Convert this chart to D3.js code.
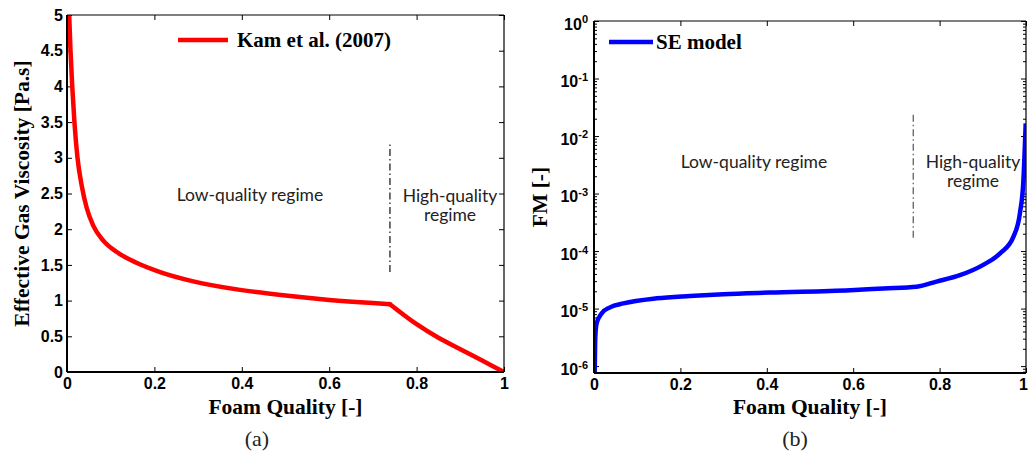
<!DOCTYPE html>
<html>
<head>
<meta charset="utf-8">
<script src="https://cdn.jsdelivr.net/npm/d3@7"></script>
<style>
	body { margin: 0; background: #fff; }
	svg { display: block; }
	.tick-label { font-family: "Liberation Sans", Arial, sans-serif; font-weight: bold; font-size: 16px; fill: #000; }
	.axis-title { font-family: "Liberation Serif", "Times New Roman", serif; font-weight: bold; font-size: 21.5px; fill: #000; }
	.legend-text { font-family: "Liberation Serif", "Times New Roman", serif; font-weight: bold; font-size: 21px; fill: #000; }
	.note { font-family: Lato, "Open Sans", sans-serif; font-size: 17.5px; fill: #222; }
	.caption { font-family: "Liberation Serif", serif; font-size: 22px; fill: #222; }
</style>
</head>
<body>
<script>
	// (a) Kam et al. (2007): effective gas viscosity vs foam quality
	var qualityA = [0.005, 0.008, 0.012, 0.017, 0.024, 0.034, 0.045, 0.060, 0.083, 0.114, 0.159, 0.213, 0.289, 0.396, 0.5, 0.6, 0.7, 0.739, 0.8, 0.85, 0.9, 0.95, 1.0];
	var viscosityA = [5.0, 4.5, 4.0, 3.5, 3.0, 2.6, 2.3, 2.05, 1.84, 1.68, 1.53, 1.40, 1.27, 1.15, 1.07, 1.01, 0.965, 0.95, 0.67, 0.48, 0.32, 0.16, 0.0];

	// (b) SE model: FM vs foam quality
	var qualityB = [0.0005, 0.002, 0.003, 0.006, 0.018, 0.037, 0.068, 0.145, 0.222, 0.299, 0.407, 0.593, 0.670, 0.747, 0.793, 0.847, 0.901, 0.940, 0.971, 0.986, 0.994, 0.9993];
	var fmB = [3e-7, 1.2e-6, 3.2e-6, 5.5e-6, 8.3e-6, 1.05e-5, 1.23e-5, 1.51e-5, 1.66e-5, 1.78e-5, 1.9e-5, 2.09e-5, 2.24e-5, 2.4e-5, 2.95e-5, 3.8e-5, 5.75e-5, 9.1e-5, 1.78e-4, 4.6e-4, 1.7e-3, 1.66e-2];

	var xTicks = [0, 0.2, 0.4, 0.6, 0.8, 1];
	var yTicksA = [0, 0.5, 1, 1.5, 2, 2.5, 3, 3.5, 4, 4.5, 5];
	var yExponentsB = [0, -1, -2, -3, -4, -5, -6];

	var regimeBoundary = 0.739;
	var boundaryA = [1.4, 3.2];
	var boundaryB = [1.7e-4, 2.6e-2];

	var width = 1028, height = 457;
	var svg = d3.select('body').append('svg').attr('width', width).attr('height', height);

	function frame(g, x, y) {
		var x0 = x.range()[0], x1 = x.range()[1], y0 = y.range()[0], y1 = y.range()[1];
		g.append('line').attr('x1', x0).attr('x2', x1).attr('y1', y1).attr('y2', y1).attr('stroke', '#000').attr('stroke-width', 1.2);
		g.append('line').attr('x1', x1).attr('x2', x1).attr('y1', y0).attr('y2', y1).attr('stroke', '#000').attr('stroke-width', 1.2);
		g.append('line').attr('x1', x0).attr('x2', x1).attr('y1', y0).attr('y2', y0).attr('stroke', '#000').attr('stroke-width', 2);
		g.append('line').attr('x1', x0).attr('x2', x0).attr('y1', y0).attr('y2', y1).attr('stroke', '#000').attr('stroke-width', 2);
	}

	function styleAxis(sel) {
		sel.select('.domain').remove();
		sel.selectAll('.tick line').attr('stroke', '#000').attr('stroke-width', 1);
		sel.selectAll('.tick text').attr('class', 'tick-label').attr('fill', null);
	}

	function xAxes(g, x, y, ticks) {
		var bottom = g.append('g').attr('transform', 'translate(0,' + y.range()[0] + ')')
			.call(d3.axisBottom(x).tickValues(ticks).tickSize(-5).tickPadding(6).tickFormat(d3.format('')))
			.call(styleAxis);
		g.append('g').attr('transform', 'translate(0,' + y.range()[1] + ')')
			.call(d3.axisTop(x).tickValues(ticks).tickSize(-5).tickFormat(''))
			.call(styleAxis);
		return bottom;
	}

	function clip(id, x, y) {
		svg.append('clipPath').attr('id', id).append('rect')
			.attr('x', x.range()[0]).attr('y', y.range()[1])
			.attr('width', x.range()[1] - x.range()[0]).attr('height', y.range()[0] - y.range()[1]);
	}

	/*** Panel (a) ***/
	var xA = d3.scaleLinear().domain([0, 1]).range([67, 504]);
	var yA = d3.scaleLinear().domain([0, 5]).range([372, 15]);
	var gA = svg.append('g');
	clip('clipA', xA, yA);

	xAxes(gA, xA, yA, xTicks);
	gA.append('g').attr('transform', 'translate(' + xA.range()[0] + ',0)')
		.call(d3.axisLeft(yA).tickValues(yTicksA).tickSize(-5).tickPadding(4).tickFormat(d3.format('')))
		.call(styleAxis);
	gA.append('g').attr('transform', 'translate(' + xA.range()[1] + ',0)')
		.call(d3.axisRight(yA).tickValues(yTicksA).tickSize(-5).tickFormat(''))
		.call(styleAxis);

	gA.append('line')
		.attr('x1', xA(regimeBoundary)).attr('x2', xA(regimeBoundary))
		.attr('y1', yA(boundaryA[0])).attr('y2', yA(boundaryA[1]))
		.attr('stroke', '#111').attr('stroke-width', 1.2).attr('stroke-dasharray', '7,3,1.5,3');

	// the curve has a kink at the regime boundary: draw each regime as its own smooth piece
	var pointsA = d3.zip(qualityA, viscosityA);
	var lineA = d3.line().x(function(d) { return xA(d[0]); }).y(function(d) { return yA(d[1]); }).curve(d3.curveMonotoneX);
	[pointsA.filter(function(d) { return d[0] <= regimeBoundary; }),
	 pointsA.filter(function(d) { return d[0] >= regimeBoundary; })].forEach(function(part) {
		gA.append('path')
			.datum(part)
			.attr('clip-path', 'url(#clipA)')
			.attr('fill', 'none').attr('stroke', '#ff0000').attr('stroke-width', 4.5)
			.attr('stroke-linejoin', 'round').attr('stroke-linecap', 'round')
			.attr('d', lineA);
	});

	frame(gA, xA, yA);

	// legend
	gA.append('line').attr('x1', 178).attr('x2', 228).attr('y1', 40).attr('y2', 40).attr('stroke', '#ff0000').attr('stroke-width', 4.5);
	gA.append('text').attr('class', 'legend-text').attr('x', 237).attr('y', 47).text('Kam et al. (2007)');

	gA.append('text').attr('class', 'note').attr('x', 250).attr('y', 201).attr('text-anchor', 'middle').text('Low-quality regime');
	gA.append('text').attr('class', 'note').attr('x', 450).attr('y', 202).attr('text-anchor', 'middle').text('High-quality');
	gA.append('text').attr('class', 'note').attr('x', 450).attr('y', 221).attr('text-anchor', 'middle').text('regime');

	gA.append('text').attr('class', 'axis-title').attr('x', (xA.range()[0] + xA.range()[1]) / 2).attr('y', 414)
		.attr('text-anchor', 'middle').text('Foam Quality [-]');
	gA.append('text').attr('class', 'axis-title').attr('text-anchor', 'middle')
		.attr('transform', 'translate(29,' + (yA.range()[0] + yA.range()[1]) / 2 + ') rotate(-90)')
		.text('Effective Gas Viscosity [Pa.s]');
	gA.append('text').attr('class', 'caption').attr('x', 257).attr('y', 446).attr('text-anchor', 'middle').text('(a)');

	/*** Panel (b) ***/
	var xB = d3.scaleLinear().domain([0, 1]).range([594, 1026]);
	var yB = d3.scaleLog().domain([Math.pow(10, -6.12), 1]).range([373, 21]);
	var gB = svg.append('g');
	clip('clipB', xB, yB);

	var bottomB = xAxes(gB, xB, yB, xTicks);
	// keep the last label inside the page
	bottomB.selectAll('.tick text').filter(function(d) { return d === 1; }).attr('dx', -3);

	var majorB = yExponentsB.map(function(e) { return Math.pow(10, e); });
	var minorB = yB.ticks().filter(function(v) {
		var e = Math.log10(v);
		return Math.abs(e - Math.round(e)) > 1e-6;
	});

	var leftMajor = gB.append('g').attr('transform', 'translate(' + xB.range()[0] + ',0)')
		.call(d3.axisLeft(yB).tickValues(majorB).tickSize(-5).tickPadding(14).tickFormat(function() { return ''; }))
		.call(styleAxis);
	leftMajor.selectAll('.tick').each(function(d, i) {
		var t = d3.select(this).select('text').attr('dy', '0.5em').attr('text-anchor', 'end');
		t.append('tspan').text('10');
		t.append('tspan').attr('dy', '-0.55em').style('font-size', '11px').text(String(yExponentsB[i]));
		t.attr('x', -6);
	});
	gB.append('g').attr('transform', 'translate(' + xB.range()[0] + ',0)')
		.call(d3.axisLeft(yB).tickValues(minorB).tickSize(-3).tickFormat(''))
		.call(styleAxis);
	gB.append('g').attr('transform', 'translate(' + xB.range()[1] + ',0)')
		.call(d3.axisRight(yB).tickValues(majorB).tickSize(-5).tickFormat(''))
		.call(styleAxis);
	gB.append('g').attr('transform', 'translate(' + xB.range()[1] + ',0)')
		.call(d3.axisRight(yB).tickValues(minorB).tickSize(-3).tickFormat(''))
		.call(styleAxis);

	gB.append('line')
		.attr('x1', xB(regimeBoundary)).attr('x2', xB(regimeBoundary))
		.attr('y1', yB(boundaryB[0])).attr('y2', yB(boundaryB[1]))
		.attr('stroke', '#555').attr('stroke-width', 1.2).attr('stroke-dasharray', '7,3,1.5,3');

	gB.append('path')
		.datum(d3.zip(qualityB, fmB))
		.attr('clip-path', 'url(#clipB)')
		.attr('fill', 'none').attr('stroke', '#0000ff').attr('stroke-width', 4.5)
		.attr('stroke-linejoin', 'round')
		.attr('d', d3.line().x(function(d) { return xB(d[0]); }).y(function(d) { return yB(d[1]); }).curve(d3.curveMonotoneX));

	frame(gB, xB, yB);

	gB.append('line').attr('x1', 609).attr('x2', 653).attr('y1', 42).attr('y2', 42).attr('stroke', '#0000ff').attr('stroke-width', 4.5);
	gB.append('text').attr('class', 'legend-text').attr('x', 656).attr('y', 49).text('SE model');

	gB.append('text').attr('class', 'note').attr('x', 754).attr('y', 168).attr('text-anchor', 'middle').text('Low-quality regime');
	gB.append('text').attr('class', 'note').attr('x', 973).attr('y', 168).attr('text-anchor', 'middle').text('High-quality');
	gB.append('text').attr('class', 'note').attr('x', 973).attr('y', 187).attr('text-anchor', 'middle').text('regime');

	gB.append('text').attr('class', 'axis-title').attr('x', (xB.range()[0] + xB.range()[1]) / 2).attr('y', 414)
		.attr('text-anchor', 'middle').text('Foam Quality [-]');
	gB.append('text').attr('class', 'axis-title').attr('text-anchor', 'middle')
		.attr('transform', 'translate(547,' + (yB.range()[0] + yB.range()[1]) / 2 + ') rotate(-90)')
		.text('FM [-]');
	gB.append('text').attr('class', 'caption').attr('x', 795).attr('y', 446).attr('text-anchor', 'middle').text('(b)');
</script>
</body>
</html>
